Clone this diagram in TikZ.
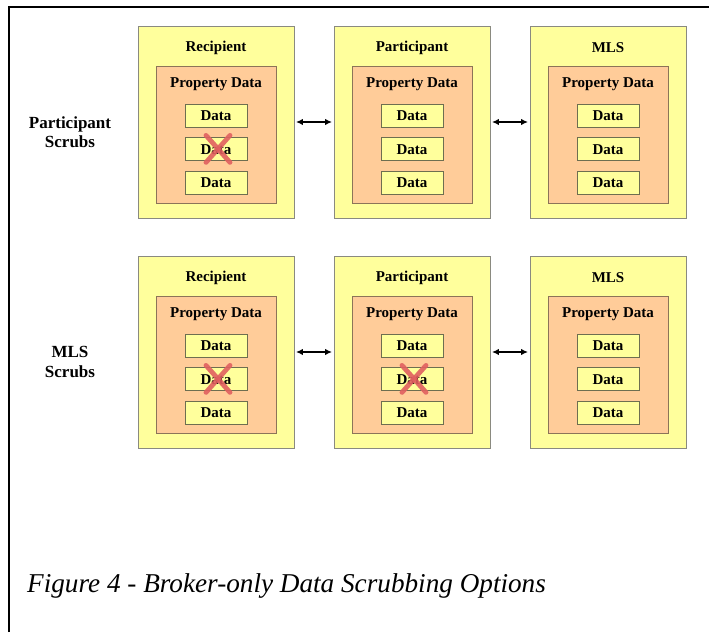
\documentclass[tikz,border=0pt]{standalone}
\usepackage{fontspec}
\setmainfont{Liberation Serif}
\usetikzlibrary{positioning,arrows.meta}

\definecolor{paleyellow}{HTML}{FFFF9C}
\definecolor{peach}{HTML}{FFCC99}
\definecolor{boxline}{HTML}{8A8A80}
\definecolor{peachline}{HTML}{8C7458}
\definecolor{dataline}{HTML}{6E6E50}
\definecolor{crossred}{HTML}{E06060}

\begin{document}
\begin{tikzpicture}[
  x=1pt, y=1pt,
  node distance=9.5pt,
  party/.style={draw=boxline, line width=0.9pt, fill=paleyellow, minimum width=156pt, minimum height=192pt, inner sep=0pt},
  store/.style={draw=peachline, line width=0.9pt, fill=peach, minimum width=120pt, minimum height=137pt, inner sep=0pt},
  dat/.style={draw=dataline, line width=0.9pt, fill=paleyellow, minimum width=62pt, minimum height=23pt, inner sep=0pt, font=\bfseries\fontsize{15}{17}\selectfont},
  head/.style={inner sep=0pt, font=\bfseries\fontsize{15}{17}\selectfont},
  side/.style={inner sep=0pt, align=center, font=\bfseries\fontsize{17}{19.5}\selectfont},
  link/.style={{Latex[length=7pt,width=6.5pt]}-{Latex[length=7pt,width=6.5pt]}, line width=2pt, shorten <=1.5pt, shorten >=1.5pt},
  scrub/.style={draw=crossred, line width=4.8pt, line cap=round, opacity=0.9}
]
\useasboundingbox (0,0) rectangle (709,632);

% frame
\draw[line width=1.4pt] (9,0) -- (9,625) -- (709,625);

% row 1: participant scrubs
\node[side] (lab1) at (70,500) {Participant\\Scrubs};

\node[party] (rec1) at (216,510) {};
\node[head] (rec1t) at (216,584) {Recipient};
\node[store] (rec1s) at (216,497.5) {};
\node[head] (rec1p) at (216,548) {Property Data};
\node[dat] (rec1a) at (216,516) {Data};
\node[dat,below=of rec1a] (rec1b) {Data};
\node[dat,below=of rec1b] (rec1c) {Data};

\node[party] (par1) at (412,510) {};
\node[head] (par1t) at (412,584) {Participant};
\node[store] (par1s) at (412,497.5) {};
\node[head] (par1p) at (412,548) {Property Data};
\node[dat] (par1a) at (412,516) {Data};
\node[dat,below=of par1a] (par1b) {Data};
\node[dat,below=of par1b] (par1c) {Data};

\node[party] (mls1) at (608,510) {};
\node[head] (mls1t) at (608,584) {MLS};
\node[store] (mls1s) at (608,497.5) {};
\node[head] (mls1p) at (608,548) {Property Data};
\node[dat] (mls1a) at (608,516) {Data};
\node[dat,below=of mls1a] (mls1b) {Data};
\node[dat,below=of mls1b] (mls1c) {Data};

% row 2: MLS scrubs
\node[side] (lab2) at (70,270) {MLS\\Scrubs};

\node[party] (rec2) at (216,280) {};
\node[head] (rec2t) at (216,354) {Recipient};
\node[store] (rec2s) at (216,267.5) {};
\node[head] (rec2p) at (216,318) {Property Data};
\node[dat] (rec2a) at (216,286) {Data};
\node[dat,below=of rec2a] (rec2b) {Data};
\node[dat,below=of rec2b] (rec2c) {Data};

\node[party] (par2) at (412,280) {};
\node[head] (par2t) at (412,354) {Participant};
\node[store] (par2s) at (412,267.5) {};
\node[head] (par2p) at (412,318) {Property Data};
\node[dat] (par2a) at (412,286) {Data};
\node[dat,below=of par2a] (par2b) {Data};
\node[dat,below=of par2b] (par2c) {Data};

\node[party] (mls2) at (608,280) {};
\node[head] (mls2t) at (608,354) {MLS};
\node[store] (mls2s) at (608,267.5) {};
\node[head] (mls2p) at (608,318) {Property Data};
\node[dat] (mls2a) at (608,286) {Data};
\node[dat,below=of mls2a] (mls2b) {Data};
\node[dat,below=of mls2b] (mls2c) {Data};

% scrubbed fields
\draw[scrub] ([shift={(-10,-13)}]rec1b.center) -- ([shift={(14,14)}]rec1b.center);
\draw[scrub] ([shift={(-10,14)}]rec1b.center) -- ([shift={(14,-13)}]rec1b.center);
\draw[scrub] ([shift={(-10,-13)}]rec2b.center) -- ([shift={(14,14)}]rec2b.center);
\draw[scrub] ([shift={(-10,14)}]rec2b.center) -- ([shift={(14,-13)}]rec2b.center);
\draw[scrub] ([shift={(-10,-13)}]par2b.center) -- ([shift={(14,14)}]par2b.center);
\draw[scrub] ([shift={(-10,14)}]par2b.center) -- ([shift={(14,-13)}]par2b.center);

\path
(rec1) edge[link] (par1)
(par1) edge[link] (mls1)
(rec2) edge[link] (par2)
(par2) edge[link] (mls2)
;

% caption
\node[anchor=base west, inner sep=0pt, font=\itshape\fontsize{27.2}{30}\selectfont] (cap) at (27,40) {Figure 4 - Broker-only Data Scrubbing Options};

\end{tikzpicture}
\end{document}
